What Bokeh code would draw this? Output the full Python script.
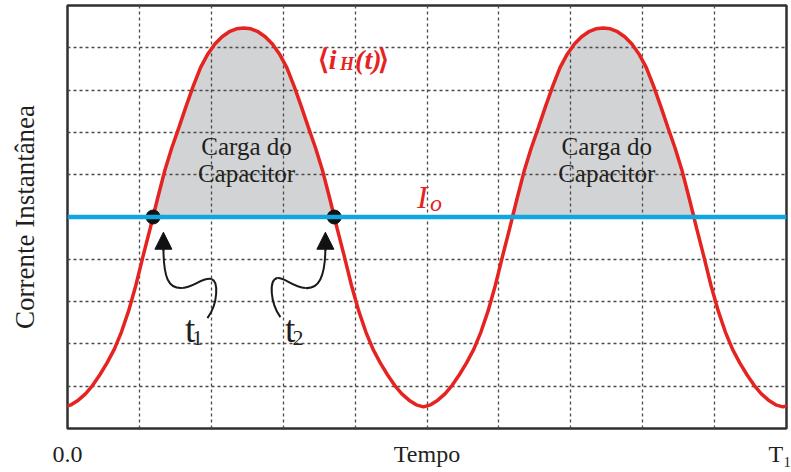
import numpy as np
from bokeh.plotting import figure
from bokeh.models import Label, FixedTicker, Range1d, Span, Arrow, NormalHead
from bokeh.embed import file_html
from bokeh.resources import INLINE

# Averaged inductor current <i_H(t)>: level of one hump versus distance from its peak
hump_offset = [0.0, 0.1, 0.2, 0.3, 0.4, 0.5, 0.6, 0.7, 0.8, 0.9, 1.0, 1.1, 1.2,
               1.3, 1.4, 1.5, 1.6, 1.7, 1.8, 1.9, 2.0, 2.1, 2.2, 2.3, 2.4, 2.5]
hump_level = [9.47, 9.45, 9.38, 9.26, 9.09, 8.85, 8.53, 8.10, 7.62, 7.12, 6.63, 6.08, 5.42,
              4.73, 4.07, 3.38, 2.78, 2.28, 1.87, 1.55, 1.27, 1.02, 0.82, 0.67, 0.56, 0.51]
peak_times = [2.45, 7.45, 12.45]

# Output current and the crossing instants
Io = 5.0
t1, t2 = 1.19, 3.71

x_ticks = [0, 5, 10]
x_tick_labels = {0: "0.0", 5: "Tempo", 10: "T₁"}
grid_ticks = [1, 2, 3, 4, 5, 6, 7, 8, 9]

RED = "#e52421"
BLUE = "#12a6e0"
INK = "#231f20"
SERIF = "Liberation Serif"

off = np.array(hump_offset)
lev = np.array(hump_level)
xs, ys = [], []
for pk in peak_times:
    xs.append(pk - off[::-1]); ys.append(lev[::-1])
    xs.append(pk + off[1:]); ys.append(lev[1:])
xs = np.concatenate(xs)
ys = np.concatenate(ys)
keep = xs <= 10.3
xs, ys = xs[keep], ys[keep]

p = figure(width=791, height=472, output_backend="svg", toolbar_location=None,
           x_range=Range1d(0, 10), y_range=Range1d(0, 10),
           min_border_left=67, min_border_right=5, min_border_top=5, min_border_bottom=44)
p.background_fill_color = "white"
p.border_fill_color = "white"
p.outline_line_color = "#303030"
p.outline_line_width = 2.5

# grid
for g in (p.xgrid, p.ygrid):
    g.ticker = FixedTicker(ticks=grid_ticks)
    g.grid_line_color = "#4a4a4a"
    g.grid_line_dash = "3 3"
    g.grid_line_width = 1.3

# axes
p.xaxis.ticker = FixedTicker(ticks=x_ticks)
p.xaxis.major_label_overrides = x_tick_labels
p.xaxis.major_label_text_font = SERIF
p.xaxis.major_label_text_font_size = "24px"
p.xaxis.major_label_text_color = INK
p.xaxis.major_label_standoff = 6
p.xaxis.major_tick_line_color = None
p.xaxis.minor_tick_line_color = None
p.xaxis.axis_line_color = None

p.yaxis.ticker = FixedTicker(ticks=[])
p.yaxis.major_tick_line_color = None
p.yaxis.minor_tick_line_color = None
p.yaxis.axis_line_color = None
p.yaxis.major_tick_out = 0
p.yaxis.major_label_standoff = 0
p.yaxis.axis_label = "Corrente Instantânea"
p.yaxis.axis_label_text_font = SERIF
p.yaxis.axis_label_text_font_size = "27px"
p.yaxis.axis_label_text_font_style = "normal"
p.yaxis.axis_label_text_color = INK
p.yaxis.axis_label_standoff = 28

# capacitor charge region: where the inductor current exceeds Io
p.varea(x=xs, y1=np.full_like(ys, Io), y2=np.maximum(ys, Io),
        fill_color="#d1d3d4", level="image")

p.add_layout(Span(location=Io, dimension="width", line_color=BLUE, line_width=4.5))
p.line(xs, ys, line_color=RED, line_width=3.5)
p.scatter([t1, t2], [Io, Io], size=14, fill_color="#111111", line_color="#111111")

# arrows pointing at t1 and t2
def squiggle(segs):
    for (x0, y0), (cx0, cy0), (cx1, cy1), (x1, y1) in segs:
        p.bezier(x0=x0, y0=y0, cx0=cx0, cy0=cy0, cx1=cx1, cy1=cy1, x1=x1, y1=y1,
                 line_color="#1a1a1a", line_width=2)

squiggle([
    ((1.334, 4.30), (1.334, 3.556), (1.403, 3.296), (1.598, 3.320)),
    ((1.598, 3.320), (1.765, 3.343), (1.876, 3.580), (2.001, 3.533)),
    ((2.001, 3.533), (2.099, 3.485), (2.099, 2.964), (1.946, 2.609)),
])
squiggle([
    ((3.587, 4.30), (3.587, 3.556), (3.490, 3.296), (3.309, 3.320)),
    ((3.309, 3.320), (3.128, 3.343), (3.017, 3.580), (2.919, 3.556)),
    ((2.919, 3.556), (2.795, 3.509), (2.822, 2.964), (2.961, 2.633)),
])
for ax in (1.334, 3.587):
    p.add_layout(Arrow(end=NormalHead(size=17, fill_color="#111111", line_color="#111111"),
                       x_start=ax, y_start=4.2, x_end=ax, y_end=4.64,
                       line_color="#1a1a1a", line_width=2))

def label(x, y, text, size, color=INK, style="normal", align="left"):
    p.add_layout(Label(x=x, y=y, text=text, text_font=SERIF, text_font_size=size,
                       text_color=color, text_font_style=style, text_align=align,
                       text_baseline="alphabetic"))

for cx in (2.49, 7.50):
    label(cx, 6.657, "Carga do", "25px", align="center")
    label(cx, 6.018, "Capacitor", "25px", align="center")

label(1.635, 2.33, "t", "37px")
label(1.730, 2.15, "1", "22px")
label(3.026, 2.33, "t", "37px")
label(3.128, 2.15, "2", "22px")

label(4.860, 5.473, "I", "32px", color=RED, style="italic")
label(5.040, 5.33, "o", "24px", color=RED, style="italic")

label(3.480, 8.716, "⟨", "28px", color=RED, style="bold")
label(3.635, 8.716, "i", "28px", color=RED, style="bold italic")
label(3.790, 8.62, "H", "18px", color=RED, style="bold italic")
label(4.000, 8.716, "(t)", "28px", color=RED, style="bold italic")
label(4.320, 8.716, "⟩", "28px", color=RED, style="bold")

open("out.html", "w").write(file_html(p, INLINE))
